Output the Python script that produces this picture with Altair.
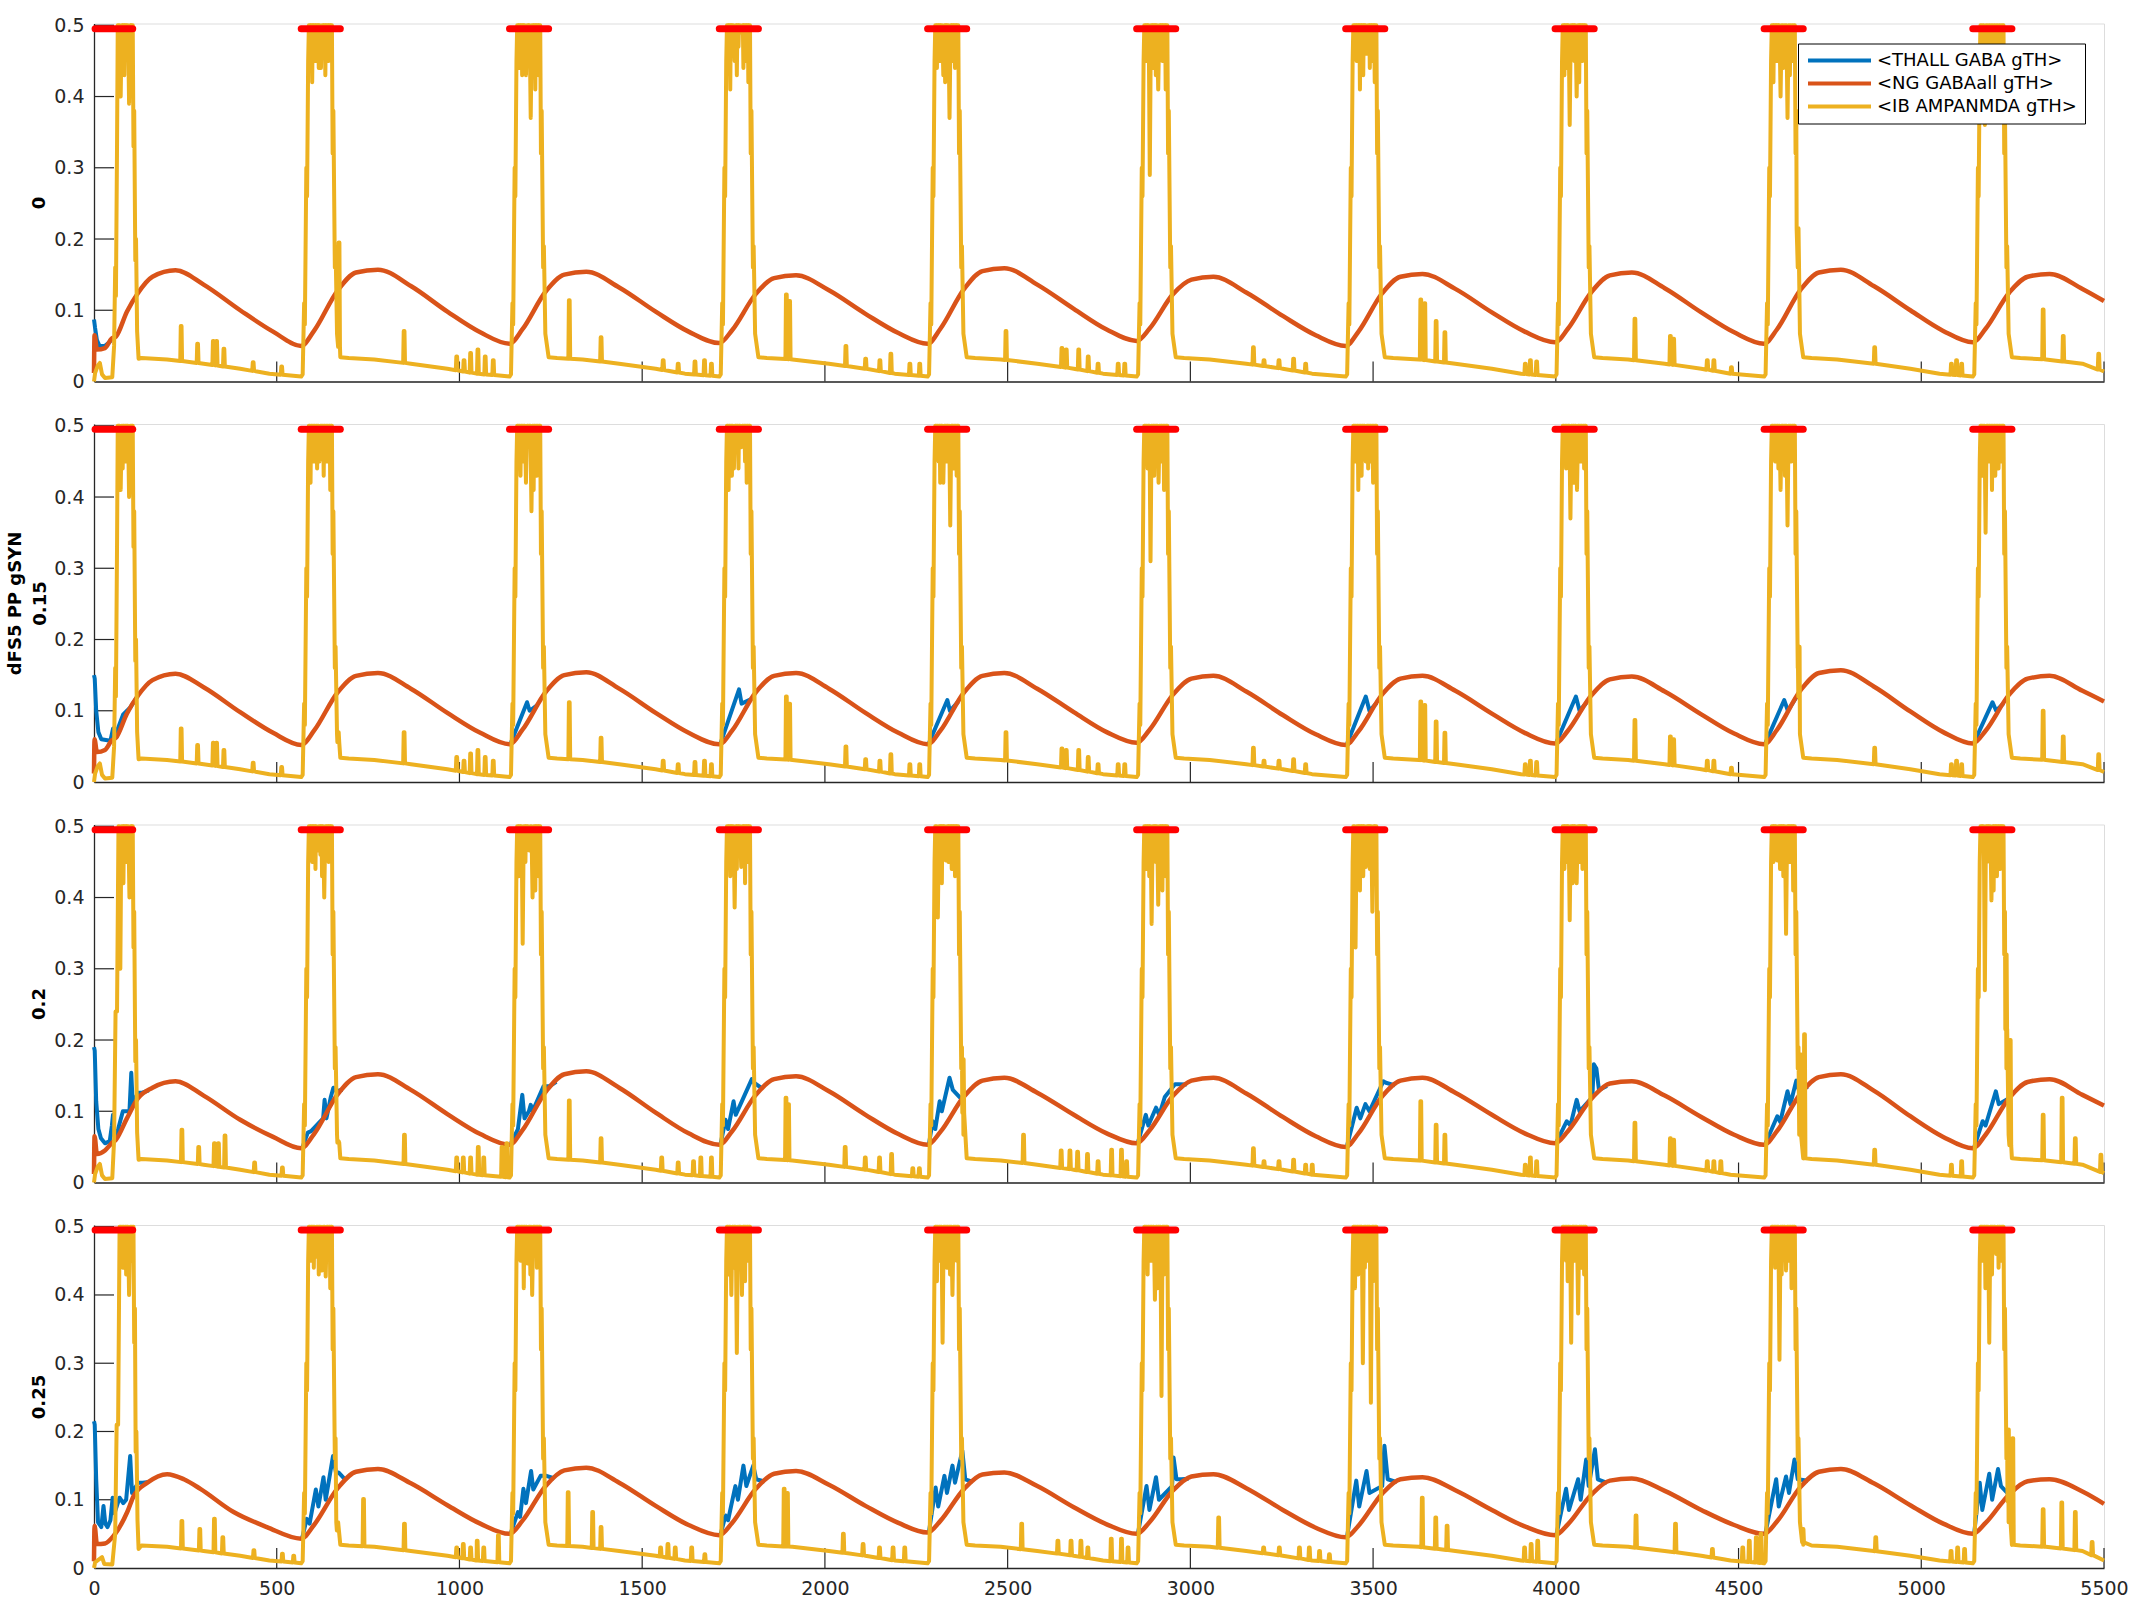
import altair as alt
import pandas as pd
import numpy as np

# ---------------- data ----------------
NAMES = ["<THALL GABA gTH>", "<NG GABAall gTH>", "<IB AMPANMDA gTH>"]
COLS = ["#0072BD", "#D95319", "#EDB120"]
RED = "#FF0000"
PANEL_LABELS = ["0", ["dFS5 PP gSYN", "0.15"], "0.2", "0.25"]

X_TICKS = list(range(0, 5501, 500))
Y_TICKS = [0, 0.1, 0.2, 0.3, 0.4, 0.5]

# burst (red marker) windows, same in all panels
BURST_START = [0, 567, 1137, 1711, 2281, 2853, 3425, 3998, 4570, 5141]
BURST_END = [106, 674, 1244, 1818, 2388, 2960, 3532, 4105, 4677, 5248]
RED_Y = 0.495

# <NG GABAall gTH>: cycle-1 points, then values per cycle at offsets O_DT from burst start
O_DT = [0, 35, 100, 150, 210, 300, 400, 490]
ORANGE_FIRST = [
    [(0, 0.012), (1.5, 0.065), (8, 0.045), (30, 0.047), (48, 0.06), (60, 0.063), (90, 0.098),
     (120, 0.124), (160, 0.147), (223, 0.156), (300, 0.136), (400, 0.1), (490, 0.07)],
    [(0, 0.012), (1.5, 0.06), (8, 0.042), (30, 0.045), (48, 0.058), (60, 0.062), (90, 0.096),
     (120, 0.121), (160, 0.143), (223, 0.152), (300, 0.133), (400, 0.098), (490, 0.069)],
    [(0, 0.012), (1.5, 0.065), (8, 0.04), (30, 0.045), (48, 0.055), (60, 0.06), (90, 0.09),
     (120, 0.118), (160, 0.133), (223, 0.142), (300, 0.122), (400, 0.088), (490, 0.064)],
    [(0, 0.01), (1.5, 0.062), (8, 0.035), (30, 0.036), (55, 0.048), (91, 0.082), (109, 0.106),
     (146, 0.125), (200, 0.1375), (246, 0.13), (291, 0.116), (382, 0.082), (473, 0.06)],
]
ORANGE_CYCLES = [
    [[0.050, 0.071, 0.128, 0.153, 0.157, 0.134, 0.098, 0.069],
     [0.053, 0.073, 0.127, 0.150, 0.154, 0.132, 0.098, 0.070],
     [0.054, 0.072, 0.123, 0.145, 0.149, 0.128, 0.095, 0.068],
     [0.053, 0.074, 0.130, 0.155, 0.159, 0.136, 0.102, 0.073],
     [0.057, 0.074, 0.123, 0.143, 0.147, 0.125, 0.092, 0.065],
     [0.050, 0.070, 0.124, 0.147, 0.151, 0.130, 0.097, 0.070],
     [0.055, 0.074, 0.126, 0.149, 0.153, 0.131, 0.097, 0.069],
     [0.053, 0.073, 0.129, 0.153, 0.157, 0.134, 0.100, 0.071],
     [0.055, 0.074, 0.125, 0.147, 0.151, 0.130]],
    [[0.052, 0.072, 0.126, 0.149, 0.153, 0.131, 0.097, 0.069],
     [0.053, 0.073, 0.127, 0.150, 0.154, 0.131, 0.097, 0.069],
     [0.053, 0.072, 0.126, 0.149, 0.153, 0.131, 0.097, 0.069],
     [0.053, 0.072, 0.126, 0.149, 0.153, 0.131, 0.098, 0.070],
     [0.055, 0.073, 0.123, 0.145, 0.149, 0.127, 0.094, 0.067],
     [0.052, 0.071, 0.123, 0.145, 0.149, 0.128, 0.096, 0.069],
     [0.054, 0.072, 0.122, 0.144, 0.148, 0.127, 0.095, 0.068],
     [0.053, 0.073, 0.129, 0.153, 0.157, 0.134, 0.099, 0.070],
     [0.054, 0.072, 0.123, 0.145, 0.149, 0.128]],
    [[0.048, 0.068, 0.124, 0.148, 0.152, 0.130, 0.096, 0.068],
     [0.053, 0.073, 0.128, 0.152, 0.156, 0.133, 0.098, 0.069],
     [0.053, 0.072, 0.123, 0.145, 0.149, 0.128, 0.095, 0.068],
     [0.053, 0.071, 0.121, 0.143, 0.147, 0.126, 0.095, 0.069],
     [0.055, 0.073, 0.122, 0.143, 0.147, 0.125, 0.092, 0.065],
     [0.050, 0.069, 0.121, 0.143, 0.147, 0.126, 0.095, 0.069],
     [0.055, 0.072, 0.118, 0.139, 0.142, 0.122, 0.092, 0.067],
     [0.053, 0.072, 0.125, 0.148, 0.152, 0.129, 0.093, 0.064],
     [0.048, 0.067, 0.119, 0.141, 0.145, 0.123]],
    [[0.043, 0.063, 0.117, 0.141, 0.145, 0.124, 0.092, 0.065],
     [0.050, 0.069, 0.121, 0.143, 0.147, 0.125, 0.091, 0.063],
     [0.048, 0.066, 0.116, 0.138, 0.142, 0.122, 0.091, 0.066],
     [0.052, 0.069, 0.116, 0.137, 0.140, 0.120, 0.089, 0.064],
     [0.050, 0.067, 0.114, 0.134, 0.1375, 0.117, 0.085, 0.059],
     [0.045, 0.062, 0.109, 0.130, 0.133, 0.114, 0.085, 0.061],
     [0.048, 0.064, 0.108, 0.128, 0.131, 0.113, 0.085, 0.063],
     [0.050, 0.068, 0.119, 0.141, 0.145, 0.124, 0.092, 0.065],
     [0.050, 0.066, 0.108, 0.127, 0.130, 0.112]],
]
ORANGE_END = [0.113, 0.113, 0.108, 0.094]

# <IB AMPANMDA gTH>: cycle-1 burst, with its plateau window
YELLOW_FIRST = [
    [(0, 0.0), (3, 0.012), (10, 0.022), (16, 0.026), (22, 0.01), (30, 0.005), (50, 0.006), (55, 0.05),
     (58, 0.16), (60, 0.12), (63, 0.33), (65, 0.5), (70, 0.5), (73, 0.40), (76, 0.5), (93, 0.5), (96, 0.39),
     (99, 0.5), (106, 0.5), (108, 0.33), (110, 0.38), (113, 0.17), (115, 0.2), (118, 0.07), (122, 0.032)],
    [(0, 0.0), (3, 0.012), (10, 0.022), (16, 0.026), (22, 0.01), (30, 0.005), (50, 0.006), (55, 0.05),
     (58, 0.16), (60, 0.12), (63, 0.33), (65, 0.5), (70, 0.5), (73, 0.41), (76, 0.5), (93, 0.5), (96, 0.40),
     (99, 0.5), (106, 0.5), (108, 0.33), (110, 0.38), (113, 0.17), (115, 0.2), (118, 0.07), (122, 0.032)],
    [(0, 0.0), (3, 0.012), (10, 0.022), (16, 0.026), (22, 0.01), (30, 0.005), (50, 0.006), (55, 0.06),
     (59, 0.24), (63, 0.24), (67, 0.5), (69, 0.5), (72, 0.30), (75, 0.5), (94, 0.5), (97, 0.40),
     (100, 0.5), (106, 0.5), (108, 0.33), (110, 0.38), (113, 0.17), (115, 0.2), (118, 0.07), (122, 0.032)],
    [(0, 0.0), (3, 0.008), (12, 0.012), (22, 0.016), (28, 0.006), (50, 0.005), (58, 0.05), (62, 0.21),
     (66, 0.21), (70, 0.5), (93, 0.5), (96, 0.40), (99, 0.5), (108, 0.5), (110, 0.33), (112, 0.38),
     (114, 0.17), (116, 0.2), (119, 0.07), (122, 0.028)],
]
FIRST_PLATEAU = [(65, 106), (65, 106), (67, 106), (70, 108)]
# dips inside each burst (cycles 2..10): (offset from burst start, value)
DIPS_P1 = [[(54, 0.44)], [(45, 0.43), (58, 0.37)], [(42, 0.45), (60, 0.49)], [(43, 0.43), (60, 0.37)],
           [(36, 0.29), (59, 0.41)], [(58, 0.46)], [(40, 0.36), (59, 0.40)], [(45, 0.40), (64, 0.37)],
           [(33, 0.36)]]
DIPS_P2 = [[(50, 0.45)], [(45, 0.42), (60, 0.38)], [(40, 0.44), (60, 0.47)], [(43, 0.42), (62, 0.36)],
           [(38, 0.31), (60, 0.42)], [(55, 0.45)], [(42, 0.37), (60, 0.41)], [(45, 0.41), (64, 0.36)],
           [(35, 0.35)]]
DIPS_P3 = [[(45, 0.466), (63, 0.40)], [(36, 0.335), (54, 0.466), (63, 0.40)], [(42, 0.386), (60, 0.443)],
           [(28, 0.372), (50, 0.452)], [(41, 0.363), (59, 0.39)], [(27, 0.33), (55, 0.443), (73, 0.38)],
           [(40, 0.368), (59, 0.42)], [(36, 0.452), (60, 0.349)], [(33, 0.27), (51, 0.396)]]
DIPS_P4 = [[(39, 0.456), (57, 0.436), (67, 0.427)], [(50, 0.446), (62, 0.40)],
           [(33, 0.40), (48, 0.315), (62, 0.40)], [(41, 0.33), (68, 0.40)], [(50, 0.393), (68, 0.252)],
           [(47, 0.30), (69, 0.242)], [(44, 0.33), (63, 0.373)], [(42, 0.305), (60, 0.436)],
           [(45, 0.33), (64, 0.46)]]
YELLOW_DIPS = [DIPS_P1, DIPS_P2, DIPS_P3, DIPS_P4]
# shallow fast oscillation depths on the burst plateau
PLATEAU_OSC = [0.46, 0.43, 0.47, 0.44, 0.48, 0.45, 0.42, 0.47, 0.45, 0.48, 0.44, 0.46, 0.43, 0.47, 0.45, 0.48, 0.41]
# burst rise / fall edges: (offset from burst start, value)
RISE = [(4, 0.01), (8, 0.11), (10, 0.08), (14, 0.3), (16, 0.26), (19, 0.45), (21, 0.5)]
FALL = [(84, 0.5), (86, 0.32), (88, 0.38), (92, 0.16), (94, 0.19), (98, 0.067), (107, 0.034)]

# slow background after each burst: (offset from burst start, value)
BASE_DT = [130, 200, 300, 400, 480]
BASE_V = [0.033, 0.031, 0.025, 0.018, 0.011]
PRE_BURST_V = 0.007
YELLOW_END = [0.014, 0.014, 0.013, 0.011]

# narrow spikes: (time, peak)
SPIKES_P1 = [(238, 0.078), (283, 0.053), (326, 0.057), (335, 0.057), (355, 0.046), (435, 0.027), (513, 0.021),
             (670, 0.195), (848, 0.071), (992, 0.035), (1012, 0.03), (1030, 0.04), (1050, 0.045), (1070, 0.035), (1092, 0.03),
             (1300, 0.114), (1387, 0.062), (1557, 0.03), (1598, 0.025), (1644, 0.028), (1670, 0.03), (1689, 0.025),
             (1894, 0.122), (1903, 0.113), (2057, 0.05), (2111, 0.032), (2150, 0.03), (2180, 0.039), (2232, 0.025), (2259, 0.025),
             (2495, 0.071), (2648, 0.047), (2660, 0.045), (2694, 0.045), (2720, 0.035), (2747, 0.025), (2802, 0.025), (2820, 0.025),
             (3172, 0.048), (3201, 0.03), (3242, 0.03), (3282, 0.032), (3315, 0.025),
             (3630, 0.115), (3641, 0.11), (3672, 0.085), (3696, 0.069), (3916, 0.025), (3930, 0.03), (3947, 0.028),
             (4216, 0.088), (4313, 0.064), (4322, 0.06), (4414, 0.03), (4432, 0.03), (4480, 0.02),
             (4661, 0.188), (4872, 0.048), (5082, 0.025), (5096, 0.03), (5110, 0.025),
             (5333, 0.101), (5388, 0.064), (5485, 0.039)]
SPIKES_P2 = [(238, 0.075), (283, 0.052), (326, 0.055), (335, 0.055), (355, 0.045), (435, 0.027), (513, 0.021),
             (668, 0.07), (848, 0.07), (992, 0.035), (1012, 0.03), (1030, 0.04), (1050, 0.045), (1070, 0.035), (1092, 0.03),
             (1300, 0.112), (1387, 0.062), (1557, 0.03), (1598, 0.025), (1644, 0.028), (1670, 0.03), (1689, 0.025),
             (1894, 0.12), (1903, 0.11), (2057, 0.05), (2111, 0.032), (2150, 0.03), (2180, 0.039), (2232, 0.025), (2259, 0.025),
             (2495, 0.07), (2648, 0.047), (2660, 0.045), (2694, 0.045), (2720, 0.035), (2747, 0.025), (2802, 0.025), (2820, 0.025),
             (3172, 0.048), (3201, 0.03), (3242, 0.03), (3282, 0.032), (3315, 0.025),
             (3630, 0.113), (3641, 0.108), (3672, 0.085), (3696, 0.069), (3916, 0.025), (3930, 0.03), (3947, 0.028),
             (4216, 0.087), (4313, 0.064), (4322, 0.06), (4414, 0.03), (4432, 0.03), (4480, 0.02),
             (4664, 0.12), (4872, 0.048), (5082, 0.025), (5096, 0.03), (5110, 0.025),
             (5333, 0.1), (5388, 0.064), (5485, 0.039)]
SPIKES_P3 = [(240, 0.074), (286, 0.05), (329, 0.055), (340, 0.055), (358, 0.066), (439, 0.028), (515, 0.021),
             (668, 0.058), (849, 0.067), (992, 0.035), (1010, 0.035), (1030, 0.035), (1051, 0.05), (1066, 0.035), (1116, 0.05), (1129, 0.055),
             (1300, 0.115), (1387, 0.062), (1553, 0.035), (1598, 0.028), (1640, 0.03), (1660, 0.035), (1689, 0.035),
             (1893, 0.119), (1900, 0.11), (2055, 0.05), (2110, 0.035), (2149, 0.035), (2182, 0.04), (2240, 0.02), (2258, 0.02),
             (2378, 0.173), (2543, 0.067), (2646, 0.045), (2670, 0.045), (2691, 0.043), (2718, 0.04), (2747, 0.03), (2784, 0.046), (2811, 0.046), (2825, 0.03),
             (3172, 0.048), (3201, 0.03), (3242, 0.03), (3282, 0.032), (3315, 0.025), (3333, 0.025),
             (3630, 0.114), (3672, 0.081), (3696, 0.067), (3916, 0.025), (3930, 0.035), (3947, 0.03),
             (4216, 0.084), (4313, 0.062), (4322, 0.06), (4414, 0.03), (4432, 0.03), (4451, 0.03),
             (4668, 0.18), (4680, 0.208), (4872, 0.046), (5082, 0.025), (5110, 0.03),
             (5232, 0.32), (5243, 0.2), (5333, 0.095), (5385, 0.119), (5421, 0.062), (5491, 0.039)]
SPIKES_P4 = [(240, 0.069), (289, 0.057), (329, 0.072), (352, 0.045), (437, 0.026), (515, 0.021), (546, 0.018),
             (665, 0.055), (737, 0.101), (849, 0.065), (992, 0.03), (1010, 0.035), (1030, 0.03), (1048, 0.04), (1066, 0.03), (1106, 0.048),
             (1297, 0.111), (1364, 0.082), (1387, 0.06), (1550, 0.03), (1570, 0.035), (1590, 0.03), (1635, 0.03), (1671, 0.02),
             (1888, 0.116), (1897, 0.11), (2050, 0.05), (2104, 0.035), (2149, 0.03), (2186, 0.03), (2218, 0.03),
             (2538, 0.065), (2637, 0.04), (2673, 0.04), (2700, 0.04), (2719, 0.03), (2783, 0.043), (2811, 0.043), (2829, 0.03),
             (3077, 0.074), (3200, 0.03), (3243, 0.03), (3298, 0.03), (3325, 0.03), (3353, 0.025), (3380, 0.02),
             (3634, 0.103), (3671, 0.074), (3702, 0.062), (3914, 0.03), (3932, 0.035), (3950, 0.04),
             (4219, 0.077), (4327, 0.065), (4428, 0.028), (4511, 0.03), (4529, 0.04), (4548, 0.045), (4561, 0.05),
             (4676, 0.057), (4875, 0.045), (5081, 0.025), (5099, 0.03), (5118, 0.028),
             (5238, 0.203), (5250, 0.19), (5333, 0.086), (5384, 0.096), (5421, 0.082), (5467, 0.038)]
YELLOW_SPIKES = [SPIKES_P1, SPIKES_P2, SPIKES_P3, SPIKES_P4]

# <THALL GABA gTH>: visible excursions (None = joins the NG trace)
BLUE_P1 = [[(0, 0.087), (3, 0.075), (8, 0.058), (15, 0.05), (30, 0.05), (42, 0.055), (50, None)]]
BLUE_P2 = [[(0, 0.15), (2, 0.145), (6, 0.1), (12, 0.07), (20, 0.06), (45, 0.058), (52, 0.075), (58, 0.065),
            (80, 0.095), (100, 0.105), (120, None)],
           [(1141, None), (1185, 0.112), (1192, 0.1), (1215, None)],
           [(1715, None), (1765, 0.13), (1772, 0.11), (1800, None)],
           [(2285, None), (2335, 0.115), (2342, 0.1), (2365, None)],
           [(3429, None), (3480, 0.12), (3490, 0.1), (3510, None)],
           [(4002, None), (4055, 0.12), (4065, 0.1), (4085, None)],
           [(4574, None), (4625, 0.115), (4635, 0.1), (4660, None)],
           [(5145, None), (5195, 0.112), (5205, 0.1), (5225, None)]]
BLUE_P3 = [[(0, 0.19), (2, 0.185), (6, 0.114), (12, 0.075), (19, 0.062), (30, 0.055), (43, 0.058), (49, 0.08),
            (52, 0.095), (56, 0.065), (66, 0.075), (79, 0.10), (97, 0.10), (102, 0.154), (106, 0.11),
            (120, 0.126), (132, 0.126), (150, None)],
           [(571, None), (585, 0.07), (594, 0.072), (627, 0.09), (631, 0.116), (636, 0.09), (648, 0.12),
            (655, 0.133), (663, 0.128), (680, None)],
           [(1141, None), (1160, 0.075), (1172, 0.123), (1178, 0.09), (1190, 0.1), (1195, 0.109), (1200, 0.1),
            (1230, 0.135), (1246, 0.135), (1265, None)],
           [(1715, None), (1728, 0.088), (1735, 0.075), (1750, 0.114), (1756, 0.095), (1800, 0.145),
            (1806, 0.14), (1830, None)],
           [(2285, None), (2295, 0.086), (2302, 0.075), (2314, 0.114), (2320, 0.1), (2341, 0.147),
            (2350, 0.13), (2375, None)],
           [(2857, None), (2878, 0.095), (2885, 0.08), (2906, 0.105), (2915, 0.095), (2930, 0.12),
            (2958, 0.138), (2967, 0.138), (2990, None)],
           [(3429, None), (3455, 0.105), (3465, 0.09), (3479, 0.11), (3490, 0.1), (3528, 0.142),
            (3535, 0.14), (3560, None)],
           [(4002, None), (4030, 0.086), (4040, 0.08), (4057, 0.116), (4065, 0.1), (4100, 0.12),
            (4104, 0.166), (4111, 0.16), (4118, 0.13), (4140, None)],
           [(4574, None), (4606, 0.093), (4614, 0.085), (4634, 0.128), (4642, 0.11), (4658, 0.143),
            (4665, 0.13), (4690, None)],
           [(5145, None), (5168, 0.086), (5176, 0.08), (5204, 0.128), (5212, 0.11), (5240, None)]]
BLUE_P4 = [[(0, 0.215), (2, 0.21), (6, 0.13), (11, 0.067), (20, 0.06), (26, 0.091), (31, 0.065), (37, 0.06),
            (45, 0.07), (51, 0.103), (56, 0.08), (70, 0.103), (80, 0.095), (88, 0.1), (99, 0.164),
            (104, 0.11), (121, 0.125), (133, 0.125), (150, None)],
           [(570, None), (582, 0.072), (590, 0.065), (607, 0.115), (614, 0.09), (628, 0.133), (634, 0.1),
            (654, 0.164), (662, 0.14), (669, 0.14), (690, None)],
           [(1141, None), (1160, 0.082), (1166, 0.075), (1175, 0.116), (1182, 0.095), (1196, 0.142),
            (1202, 0.115), (1222, 0.135), (1238, 0.135), (1260, None)],
           [(1715, None), (1728, 0.077), (1735, 0.07), (1755, 0.12), (1762, 0.1), (1777, 0.15),
            (1785, 0.12), (1804, 0.15), (1812, 0.13), (1835, None)],
           [(2285, None), (2303, 0.118), (2310, 0.09), (2327, 0.135), (2334, 0.11), (2349, 0.15),
            (2356, 0.125), (2376, 0.172), (2384, 0.13), (2405, None)],
           [(2857, None), (2880, 0.12), (2888, 0.085), (2906, 0.133), (2914, 0.1), (2950, 0.12),
            (2954, 0.162), (2962, 0.13), (2975, 0.13), (2995, None)],
           [(3429, None), (3454, 0.128), (3462, 0.09), (3482, 0.142), (3490, 0.11), (3525, 0.12),
            (3531, 0.179), (3540, 0.13), (3565, None)],
           [(4002, None), (4028, 0.116), (4036, 0.085), (4061, 0.13), (4068, 0.1), (4083, 0.159),
            (4090, 0.12), (4107, 0.174), (4115, 0.13), (4140, None)],
           [(4574, None), (4603, 0.13), (4610, 0.09), (4630, 0.134), (4638, 0.11), (4653, 0.159),
            (4662, 0.13), (4690, None)],
           [(5145, None), (5160, 0.125), (5167, 0.085), (5186, 0.138), (5194, 0.1), (5210, 0.145),
            (5218, 0.12), (5240, None)]]
BLUE_WINDOWS = [BLUE_P1, BLUE_P2, BLUE_P3, BLUE_P4]

# ---------------- build tables ----------------
def strictly_increasing(pts):
    pts = sorted(pts, key=lambda p: p[0])
    out = []
    last = -1e9
    for t, v in pts:
        if t <= last:
            t = last + 0.05
        out.append((t, v))
        last = t
    return out


def orange_points(p):
    pts = list(ORANGE_FIRST[p])
    for k, vals in enumerate(ORANGE_CYCLES[p], start=1):
        R = BURST_START[k]
        for dt, v in zip(O_DT, vals):
            if R + dt < 5500:
                pts.append((R + dt, v))
    pts.append((5500, ORANGE_END[p]))
    return strictly_increasing(pts)


def plateau(a, b, dip_times, k0):
    out = []
    j = k0
    t = a + 3
    while t < b - 3:
        if all(abs(t + 1.5 - d) > 4 for d in dip_times):
            out += [(t, 0.5), (t + 1.5, PLATEAU_OSC[j % len(PLATEAU_OSC)]), (t + 3, 0.5)]
            j += 1
        t += 4.5
    return out


def yellow_points(p):
    pts = list(YELLOW_FIRST[p])
    first_dips = [t for t, v in YELLOW_FIRST[p] if 0.2 < v < 0.5 and FIRST_PLATEAU[p][0] < t < FIRST_PLATEAU[p][1]]
    pts += plateau(FIRST_PLATEAU[p][0], FIRST_PLATEAU[p][1], first_dips, 3 * p)
    n = len(BURST_START)
    for k in range(n):
        R = BURST_START[k]
        if k > 0:
            pts += [(R + dt, v) for dt, v in RISE]
            dips = YELLOW_DIPS[p][k - 1]
            for dt, v in dips:
                pts += [(R + dt - 3, 0.5), (R + dt, v), (R + dt + 3, 0.5)]
            pts += plateau(R + 21, R + 84, [R + dt for dt, _ in dips], k * 5 + p)
            pts += [(R + dt, v) for dt, v in FALL]
        nxt = BURST_START[k + 1] if k + 1 < n else 5500
        for dt, v in zip(BASE_DT, BASE_V):
            if R + dt < nxt:
                pts.append((R + dt, v))
        if k + 1 < n:
            pts.append((nxt, PRE_BURST_V))
    pts.append((5500, YELLOW_END[p]))
    pts = strictly_increasing(pts)
    bt = np.array([a for a, _ in pts])
    bv = np.array([b for _, b in pts])
    for t, pk in YELLOW_SPIKES[p]:
        b = float(np.interp(t, bt, bv))
        pts += [(t - 2, b), (t - 0.5, pk), (t + 1.5, pk), (t + 3, b)]
    return strictly_increasing(pts)


def blue_rows(p, opts):
    ot = np.array([a for a, _ in opts])
    ov = np.array([b for _, b in opts])
    rows = []
    for s, win in enumerate(BLUE_WINDOWS[p]):
        for t, v in win:
            if v is None:
                v = float(np.interp(t, ot, ov))
            rows.append({"t": t, "v": v, "seg": s, "s": NAMES[0]})
    return pd.DataFrame(rows)


# ---------------- chart ----------------
W = 2010
HEIGHTS = [358, 358, 358, 343]
YDOM = [0, 0.5025]
FONT = "DejaVu Sans"
AX = "#262626"


def make_panel(i):
    H = HEIGHTS[i]
    opts = orange_points(i)
    ypts = yellow_points(i)
    df_o = pd.DataFrame({"t": [a for a, _ in opts], "v": [b for _, b in opts], "s": NAMES[1]})
    df_y = pd.DataFrame({"t": [a for a, _ in ypts], "v": [b for _, b in ypts], "s": NAMES[2]})
    df_b = blue_rows(i, opts)
    df_r = pd.DataFrame({"t": BURST_START, "t2": BURST_END})
    df_r.loc[0, "t"] = 3
    df_yt = pd.DataFrame({"v": Y_TICKS[1:]})
    df_xt = pd.DataFrame({"t": X_TICKS[1:]})

    xscale = alt.Scale(domain=[0, 5500], nice=False, zero=False)
    yscale = alt.Scale(domain=YDOM, nice=False, zero=False)
    if i == 3:
        xaxis = alt.Axis(values=X_TICKS, format="d", ticks=False, labelPadding=11, labelFont=FONT,
                         labelFontSize=19, labelColor=AX, labelFlush=False, labelOverlap=False,
                         domainColor=AX, domainWidth=1.3, grid=False, title=None)
    else:
        xaxis = alt.Axis(labels=False, ticks=False, domainColor=AX, domainWidth=1.3, grid=False, title=None)
    title = PANEL_LABELS[i]
    tx = -79 if isinstance(title, list) else -55
    yaxis = alt.Axis(values=Y_TICKS, format="~g", ticks=False, labelPadding=10, labelFont=FONT,
                     labelFontSize=19, labelColor=AX, labelFlush=False, labelOverlap=False,
                     domainColor=AX, domainWidth=1.3, grid=False,
                     title=title, titleFont=FONT, titleFontWeight="bold", titleFontSize=18,
                     titleColor="black", titleX=tx, titleY=H / 2, titleAngle=270,
                     titleBaseline="middle", titleAlign="center", titleLineHeight=25)
    X = alt.X("t:Q", scale=xscale, axis=xaxis)
    Y = alt.Y("v:Q", scale=yscale, axis=yaxis)
    if i == 0:
        legend = alt.Legend(orient="none", legendX=1704, legendY=20, title=None,
                            symbolType="M-7,0H7", symbolSize=81, symbolStrokeWidth=4,
                            symbolOffset=24.5, labelOffset=28.5,
                            labelFont=FONT, labelFontSize=18,
                            labelColor="black", fillColor="white", strokeColor="black", padding=8,
                            rowPadding=5, labelLimit=400)
    else:
        legend = None
    C = alt.Color("s:N", scale=alt.Scale(domain=NAMES, range=COLS), legend=legend)

    xt = alt.Chart(df_xt).mark_rule(color=AX, strokeWidth=1.2).encode(
        x=X, y=alt.value(H), y2=alt.value(H - 20))
    yt = alt.Chart(df_yt).mark_rule(color=AX, strokeWidth=1.2).encode(
        y=Y, x=alt.value(0), x2=alt.value(20))
    blue = alt.Chart(df_b).mark_line(strokeWidth=4, strokeJoin="round").encode(
        x=X, y=Y, color=C, detail="seg:N")
    orange = alt.Chart(df_o).mark_line(strokeWidth=4.5, strokeJoin="round", interpolate="monotone").encode(
        x=X, y=Y, color=C)
    yellow = alt.Chart(df_y).mark_line(strokeWidth=4, strokeJoin="round").encode(
        x=X, y=Y, color=C)
    red = alt.Chart(df_r).mark_rule(color=RED, strokeWidth=7, strokeCap="round").encode(
        x=X, x2="t2:Q", y=alt.datum(RED_Y, scale=yscale))
    return alt.layer(xt, yt, blue, orange, yellow, red).properties(width=W, height=H)


chart = alt.vconcat(*[make_panel(i) for i in range(4)], spacing=23.5).resolve_scale(
    color="independent"
).properties(
    padding={"left": 5, "top": 15.5, "right": 0, "bottom": 0}
).configure_view(stroke=None).configure(font=FONT)

chart.save("out.html", embed_options={"renderer": "svg", "actions": False})
